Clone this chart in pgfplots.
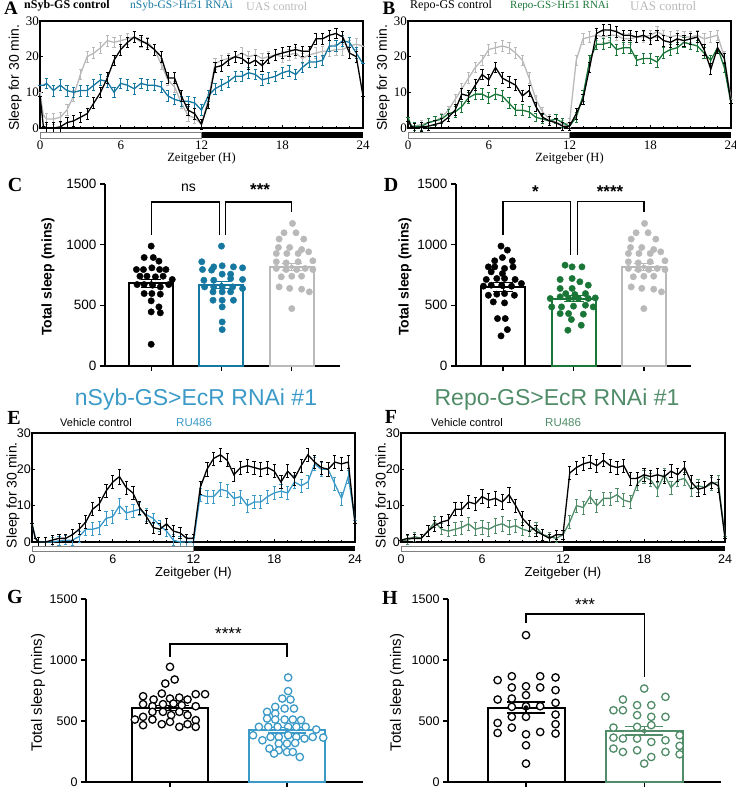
\documentclass[border=0pt]{standalone}
\usepackage{fontspec}
\setmainfont{Liberation Serif}
\newfontfamily\arial{Liberation Sans}
\usepackage{pgfplots}
\usepackage{pgfplotstable}
\pgfplotsset{compat=1.18}

\definecolor{ablue}{RGB}{22,120,160}
\definecolor{bgreen}{RGB}{25,118,55}
\definecolor{lgrey}{RGB}{185,185,185}
\definecolor{eblue}{RGB}{60,154,200}
\definecolor{fgreen}{RGB}{80,140,104}

\pgfplotstableread{
t k b g e
0 9 12 10 0
0.25 0.5 12 3.5 0
0.5 0 12.5 2.5 1.5
1 0 10.5 2.5 1.5
1.5 0.3 12 3 1.5
2 1.5 10.5 5 1.5
2.5 2 10 9 1.5
3 3 10.5 15 1.5
3.5 4 10.5 20 1.5
4 7 12 21 1.5
4.5 10 13.5 22.5 1.5
5 14 13 24.5 1.5
5.5 19 10 24 1.5
6 22 12.5 24.5 1.5
6.5 24 12 25 1.5
7 25.5 11 25.5 1.5
7.5 24.5 12.5 24 1.5
8 23.5 12 24 1.5
8.5 22 12 22 1.5
9 20 11.5 18 1.5
9.5 14 9 13.5 1.5
10 14 8 11.5 1.5
10.5 9 7.5 7 1.5
11 5 7.5 3.5 1.5
11.5 4 7 2.8 1.5
12 1 5 1 1.5
12.5 7 9 8 1.5
13 17 11 18 1.5
13.5 17.5 12 19 1.5
14 19 13 19.5 1.5
14.5 20 14.5 20 1.5
15 19.5 14.5 21 1.5
15.5 18 15.5 20 1.5
16 19 15 20.5 1.5
16.5 17.5 13.5 19.5 1.5
17 19.5 14 20 1.5
17.5 20.5 14.5 20.5 1.5
18 21 15.5 20 1.5
18.5 21.5 16 20.5 1.5
19 22 15 21 1.5
19.5 21.5 17 19.5 1.5
20 21.5 18.5 20.5 1.5
20.5 25 18.5 21 1.5
21 25 19 21.5 1.5
21.5 26 23 21.5 1.5
22 26.5 23 22 1.5
22.5 25.5 24.5 22 1.5
23 21 24 23 1.5
23.5 20 21 23.5 1.5
24 9 18 23 0
}\tabA

\pgfplotstableread{
t k g u e
0 2 3 2 0
0.25 0.5 0.5 0.5 0
0.5 0 0.5 0.5 1.2
1 0.3 0.5 1 1.2
1.5 0.5 1.5 1.5 1.2
2 1 2 2 1.2
2.5 1.5 2.5 3 1.2
3 3 4 5 1.2
3.5 5 4.5 8 1.5
4 9.5 6 11 1.5
4.5 9 8.5 14 1.5
5 12 9.5 17 1.5
5.5 15 9.5 19 1.5
6 13.5 8.5 22 1.5
6.5 17 9.5 22.5 1.5
7 14 9 23 1.5
7.5 13 7 22.5 1.5
8 12 5 21 1.5
8.5 9 5 19 1.5
9 10.5 4.5 14 1.5
9.5 6 3 8 1.2
10 3 2.5 4.5 1.2
10.5 2 2 2.5 1.2
11 1.5 2.5 1.5 1.2
11.5 0.5 1.5 1 1.2
12 0.5 0.5 1.5 1.2
12.5 4 3 19 1.5
13 8 9 25 1.5
13.5 17 19 25.5 1.5
14 26.5 23.5 26 1.5
14.5 27.5 23.5 25.5 1.5
15 27.5 24 26 1.5
15.5 27 22 26 1.5
16 26 22.5 25 1.5
16.5 26 22.5 25 1.5
17 25.5 19 25.5 1.5
17.5 26 19.5 25.5 1.5
18 25 19.5 26 1.5
18.5 26 18.5 27 1.5
19 24.5 21 26 1.5
19.5 24 22 25.5 1.5
20 25 22.5 26 1.5
20.5 24.5 24 25.5 1.5
21 25 23.5 25.5 1.5
21.5 25.5 23 26 1.5
22 22 21 25 1.5
22.5 16.5 19 25.5 1.5
23 22.5 22.5 26 1.5
23.5 19.5 17 20 1.5
24 7 7 8 0
}\tabB

\pgfplotstableread{
t k r e
0 5 5 0
0.25 1 1 0
0.5 0 0 1.2
1 0 0 1.2
1.5 0.5 0 1.2
2 1 0.3 1.2
2.5 1 0.5 1.2
3 2 0.5 1.5
3.5 3.5 1.5 1.5
4 5.5 3.5 1.8
4.5 9 3.5 1.8
5 10.5 4 1.8
5.5 14 6.5 1.8
6 16.5 7 1.8
6.5 18 10 2
7 15 8 1.8
7.5 13.5 8.5 1.8
8 9.5 9 1.8
8.5 7 7.5 1.8
9 4 6.5 1.5
9.5 3.5 4.5 1.5
10 5 3 1.5
10.5 3 0.5 1.5
11 2.5 0 1.5
11.5 1 0 1.2
12 1 0 1.2
12.5 15 13 1.8
13 20 12.5 1.8
13.5 23 12.5 1.8
14 24 14.5 1.8
14.5 22.5 14 1.8
15 18.5 12 1.8
15.5 20.5 12.5 1.8
16 21 10 1.8
16.5 20.5 11 1.8
17 20 11 1.8
17.5 20.5 12.5 1.8
18 19.5 13.5 1.8
18.5 16.5 14 1.8
19 19.5 13.5 1.8
19.5 17.5 16.5 1.8
20 21 15.5 1.8
20.5 24 16.5 1.8
21 22 21.5 1.8
21.5 20.5 20 1.8
22 20 20 1.8
22.5 22 16 1.8
23 21.5 12 1.8
23.5 22 18 1.8
24 5 6 0
}\tabE

\pgfplotstableread{
t k r e
0 0.5 0.5 0
0.5 1 0.5 1.2
1 1 1.5 1.2
1.5 1 1 1.2
2 3 3 1.5
2.5 4.5 5.5 1.5
3 5.5 3.5 1.5
3.5 6 3 1.5
4 9 3.5 1.8
4.5 9 4 1.8
5 11 5 1.8
5.5 10.5 3.5 1.8
6 12.5 4 2
6.5 11.5 3.5 2
7 12 4.5 2
7.5 11 5 2
8 13 4 2
8.5 10 4.5 1.8
9 6.5 3.5 1.8
9.5 4.5 3 1.5
10 3 4 1.5
10.5 2 2 1.5
11 1 1.5 1.2
11.5 2 1 1.2
12 2 2 1.2
12.5 19 5.5 1.8
13 20.5 10 1.8
13.5 21.5 9.5 1.8
14 22 12.5 1.8
14.5 21 10 1.8
15 22.5 12 1.8
15.5 21 12 1.8
16 20.5 13 1.8
16.5 21 11.5 1.8
17 17.5 11 1.8
17.5 17.5 16 1.8
18 18.5 18 1.8
18.5 18 17 1.8
19 18.5 14.5 1.8
19.5 18 18.5 1.8
20 19.5 15 1.8
20.5 18.5 17 1.8
21 20.5 17.5 1.8
21.5 16.5 14.5 1.8
22 14.5 15.5 1.8
22.5 15 15 1.8
23 16.5 16 1.8
23.5 15.5 16.5 1.8
24 1 1.5 0
}\tabF

\pgfplotsset{
 prof/.style={
  scale only axis, width=323pt, height=107pt,
  xmin=0, xmax=24, ymin=0, ymax=30,
  xtick={0,6,12,18,24}, ytick={0,10,20,30},
  minor x tick num=5,
  clip=false, axis line style={line width=1.1pt},
  tick align=inside, major tick length=3pt, minor tick length=2pt,
  tick style={black, line width=0.7pt},
  xtick pos=bottom, ytick pos=left,
  /pgf/number format/assume math mode=true,
  xticklabel style={yshift=-9.5pt},
  yticklabel style={inner sep=1pt},
  xlabel={Zeitgeber (H)},
  ylabel={Sleep for 30 min.},
  ylabel style={font=\arial\fontsize{14}{14}\selectfont, at={(axis description cs:-0.077,0.47)}, anchor=center},
  xlabel style={at={(axis description cs:0.5,-0.285)}, anchor=center},
 },
 serifax/.style={ticklabel style={font=\fontsize{13}{13}\selectfont}, xlabel style={font=\fontsize{12.5}{13}\selectfont}},
 sansax/.style={ticklabel style={font=\arial\fontsize{12.5}{13}\selectfont}, xlabel style={font=\arial\fontsize{13}{13}\selectfont}},
 pl/.style={#1, line width=1.3pt, error bars/y dir=both, error bars/y explicit,
   error bars/error bar style={line width=0.7pt, #1},
   error bars/error mark options={rotate=90, mark size=1.6pt, line width=0.7pt, #1}},
 barax/.style={
  scale only axis, axis lines*=left, axis line style={line width=1.3pt, -},
  ymin=0, ymax=1500, ytick={0,500,1000,1500},
  tick align=outside, major tick length=5pt, tick style={black, line width=1.3pt},
  clip=false, /pgf/number format/assume math mode=true, /pgf/number format/1000 sep={},
  xticklabels={},
 },
 barp/.style={ybar, bar shift=0pt, fill=white, draw=#1, line width=2pt},
 dotf/.style={only marks, mark=*, mark size=3.2pt, mark options={draw=#1, fill=#1}},
 doto/.style={only marks, mark=*, mark size=3.7pt, mark options={draw=#1, fill=white, line width=1.3pt}},
 sem/.style 2 args={only marks, mark=none, #1, error bars/y dir=both, error bars/y explicit,
   error bars/error bar style={line width=1.2pt,#1},
   error bars/error mark options={rotate=90, mark size=#2, line width=1.2pt, #1}},
}

\begin{document}
\begin{tikzpicture}
\useasboundingbox (0pt,0pt) rectangle (736pt,790pt);

% ---------- Panel A ----------
\begin{axis}[prof, serifax, at={(40pt,662pt)}, anchor=south west]
\addplot[pl=lgrey] table[x=t, y=g, y error=e] {\tabA};
\addplot[pl=ablue] table[x=t, y=b, y error=e] {\tabA};
\addplot[pl=black] table[x=t, y=k, y error=e] {\tabA};
\draw[gray, line width=0.6pt, fill=white] (axis cs:0,-1.12) rectangle (axis cs:12,-2.8);
\fill[black] (axis cs:12,-1.12) rectangle (axis cs:24,-2.8);
\end{axis}
\node[font=\bfseries\fontsize{19}{19}\selectfont, inner sep=0pt] at (11pt,781.5pt) {A};
\node[anchor=west, font=\bfseries\fontsize{12}{12}\selectfont, inner sep=0pt] at (24pt,784.3pt) {nSyb-GS control};
\node[anchor=west, font=\fontsize{11.5}{12}\selectfont, text=ablue, inner sep=0pt] at (130pt,784pt) {nSyb-GS>Hr51 RNAi};
\node[anchor=west, font=\fontsize{12}{12}\selectfont, text=lgrey, inner sep=0pt] at (246pt,784pt) {UAS control};

% ---------- Panel B ----------
\begin{axis}[prof, serifax, at={(408pt,662pt)}, anchor=south west]
\addplot[pl=lgrey] table[x=t, y=u, y error=e] {\tabB};
\addplot[pl=bgreen] table[x=t, y=g, y error=e] {\tabB};
\addplot[pl=black] table[x=t, y=k, y error=e] {\tabB};
\draw[gray, line width=0.6pt, fill=white] (axis cs:0,-1.12) rectangle (axis cs:12,-2.8);
\fill[black] (axis cs:12,-1.12) rectangle (axis cs:24,-2.8);
\end{axis}
\node[font=\bfseries\fontsize{19}{19}\selectfont, inner sep=0pt] at (389pt,781.5pt) {B};
\node[anchor=west, font=\fontsize{12}{12}\selectfont, inner sep=0pt] at (410pt,784pt) {Repo-GS control};
\node[anchor=west, font=\fontsize{11}{12}\selectfont, text=bgreen, inner sep=0pt] at (510pt,784pt) {Repo-GS>Hr51 RNAi};
\node[anchor=west, font=\fontsize{13}{13}\selectfont, text=lgrey, inner sep=0pt] at (630pt,784pt) {UAS control};

% ---------- Panel C ----------
\begin{axis}[barax, at={(105pt,424pt)}, anchor=south west, width=235pt, height=182pt,
  xmin=-0.657, xmax=2.686, xtick={0,1,2},
  yticklabel style={font=\arial\fontsize{13.5}{14}\selectfont},
  ylabel={Total sleep (mins)},
  ylabel style={font=\arial\bfseries\fontsize{14}{14}\selectfont, at={(axis description cs:-0.243,0.49)}, anchor=center}]
\addplot[barp=black, bar width=44pt] coordinates {(0,680)};
\addplot[barp=ablue, bar width=44pt] coordinates {(1,666)};
\addplot[barp=lgrey, bar width=44pt] coordinates {(2,817)};
\addplot[dotf=black] coordinates {(0,988) (-0.10,894) (0.03,894) (0.11,864) (-0.21,795) (-0.11,795) (0.01,809) (0.12,795) (0.21,795) (-0.16,740) (-0.06,740) (0.06,735) (0.17,740) (0.30,713) (-0.20,671) (-0.10,671) (0.02,666) (0.13,652) (0.25,671) (-0.10,597) (0.01,597) (0.13,592) (0,537) (0.11,487) (0,446) (0.13,438) (0,179)};
\addplot[dotf=ablue] coordinates {(1.00,988) (0.72,859) (0.89,817) (1.01,826) (1.17,817) (1.30,809) (0.73,795) (0.86,790) (1.01,757) (1.13,757) (0.75,707) (0.89,707) (1.13,721) (1.30,713) (0.76,652) (0.89,652) (1.01,652) (1.16,652) (1.30,639) (0.88,611) (1.01,611) (1.13,611) (0.88,542) (1.01,542) (1.17,542) (1.01,487) (1.01,363) (1.01,300)};
\addplot[dotf=lgrey] coordinates {(2.01,1175) (1.89,1098) (2.06,1098) (1.82,1046) (2.17,1046) (1.81,977) (1.97,977) (2.14,960) (1.78,927) (1.93,927) (2.09,927) (2.24,941) (2.30,867) (1.78,859) (1.92,850) (2.09,859) (1.78,804) (1.92,795) (2.07,795) (2.19,804) (2.30,795) (1.85,735) (2.00,740) (2.14,740) (1.82,652) (1.97,640) (2.14,633) (2.25,611) (2.00,473)};
\addplot[sem={black}{10pt}] coordinates {(0,680) +- (0,35)};
\addplot[sem={ablue}{10pt}] coordinates {(1,666) +- (0,30)};
\addplot[sem={lgrey}{10pt}] coordinates {(2,817) +- (0,28)};
\draw[line width=1.3pt] (axis cs:0,1080) -- (axis cs:0,1352) -- (axis cs:0.97,1352) -- (axis cs:0.97,1080);
\draw[line width=1.3pt] (axis cs:1.06,1080) -- (axis cs:1.06,1352) -- (axis cs:2,1352) -- (axis cs:2,1270);
\node[font=\arial\fontsize{14}{14}\selectfont] at (axis cs:0.53,1470) {ns};
\node[font=\arial\bfseries\fontsize{17}{17}\selectfont] at (axis cs:1.55,1452) {***};
\end{axis}
\node[font=\bfseries\fontsize{20}{20}\selectfont] at (15pt,605pt) {C};

% ---------- Panel D ----------
\begin{axis}[barax, at={(456pt,424pt)}, anchor=south west, width=235pt, height=182pt,
  xmin=-0.67, xmax=2.67, xtick={0,1,2},
  yticklabel style={font=\arial\fontsize{13.5}{14}\selectfont},
  ylabel={Total sleep (mins)},
  ylabel style={font=\arial\bfseries\fontsize{14}{14}\selectfont, at={(axis description cs:-0.217,0.49)}, anchor=center}]
\addplot[barp=black, bar width=44pt] coordinates {(0,652)};
\addplot[barp=bgreen, bar width=44pt] coordinates {(1,556)};
\addplot[barp=lgrey, bar width=44pt] coordinates {(2,817)};
\addplot[dotf=black] coordinates {(-0.03,988) (0.06,955) (-0.01,894) (-0.12,867) (0.13,867) (-0.21,817) (-0.12,817) (0.02,804) (0.14,817) (-0.17,776) (-0.01,762) (-0.24,713) (-0.09,721) (0.02,721) (0.17,713) (-0.17,666) (-0.02,666) (0.12,658) (0.26,680) (-0.28,658) (-0.21,583) (-0.09,592) (0.02,597) (0.16,583) (-0.14,528) (0.02,520) (-0.08,391) (0.03,391) (0.06,300) (-0.03,248)};
\addplot[dotf=bgreen] coordinates {(0.88,831) (0.98,817) (1.12,817) (0.81,713) (0.98,721) (1.09,694) (0.81,639) (0.98,639) (1.21,666) (0.89,597) (1.02,589) (1.17,597) (0.67,556) (0.81,570) (0.93,556) (1.07,556) (1.21,556) (1.31,561) (0.69,487) (0.83,487) (1.00,493) (1.17,501) (1.28,487) (0.81,432) (0.93,432) (1.14,427) (0.97,383) (1.11,336) (0.92,295)};
\addplot[dotf=lgrey] coordinates {(2.01,1175) (1.89,1098) (2.06,1098) (1.82,1046) (2.17,1046) (1.81,977) (1.97,977) (2.14,960) (1.78,927) (1.93,927) (2.09,927) (2.24,941) (2.30,867) (1.78,859) (1.92,850) (2.09,859) (1.78,804) (1.92,795) (2.07,795) (2.19,804) (2.30,795) (1.85,735) (2.00,740) (2.14,740) (1.82,652) (1.97,640) (2.14,633) (2.25,611) (2.00,473)};
\addplot[sem={black}{10pt}] coordinates {(0,652) +- (0,35)};
\addplot[sem={bgreen}{10pt}] coordinates {(1,556) +- (0,22)};
\addplot[sem={lgrey}{10pt}] coordinates {(2,817) +- (0,28)};
\draw[line width=1.3pt] (axis cs:0,1079) -- (axis cs:0,1354) -- (axis cs:0.96,1354) -- (axis cs:0.96,914);
\draw[line width=1.3pt] (axis cs:1.06,914) -- (axis cs:1.06,1354) -- (axis cs:2,1354) -- (axis cs:2,1271);
\node[font=\arial\bfseries\fontsize{17}{17}\selectfont] at (axis cs:0.46,1440) {*};
\node[font=\arial\bfseries\fontsize{17}{17}\selectfont] at (axis cs:1.52,1440) {****};
\end{axis}
\node[font=\bfseries\fontsize{20}{20}\selectfont] at (391pt,605pt) {D};

% ---------- Titles ----------
\node[font=\arial\fontsize{23}{23}\selectfont, text=eblue] at (196pt,390pt) {nSyb-GS>EcR RNAi \#1};
\node[font=\arial\fontsize{23}{23}\selectfont, text=fgreen] at (557pt,390pt) {Repo-GS>EcR RNAi \#1};

% ---------- Panel E ----------
\begin{axis}[prof, sansax, at={(32pt,248pt)}, anchor=south west, height=109pt,
  ylabel style={at={(axis description cs:-0.059,0.43)}},
  xlabel style={at={(axis description cs:0.5,-0.29)}}]
\addplot[pl=eblue] table[x=t, y=r, y error=e] {\tabE};
\addplot[pl=black] table[x=t, y=k, y error=e] {\tabE};
\draw[gray, line width=0.6pt, fill=white] (axis cs:0,-1.1) rectangle (axis cs:12,-2.5);
\fill[black] (axis cs:12,-1.1) rectangle (axis cs:24,-2.5);
\end{axis}
\node[font=\bfseries\fontsize{20}{20}\selectfont] at (14pt,372pt) {E};
\node[anchor=west, font=\arial\fontsize{11}{11}\selectfont, inner sep=0pt] at (60pt,367pt) {Vehicle control};
\node[anchor=west, font=\arial\fontsize{11.5}{11.5}\selectfont, text=eblue, inner sep=0pt] at (176pt,367pt) {RU486};

% ---------- Panel F ----------
\begin{axis}[prof, sansax, at={(401pt,248pt)}, anchor=south west, width=324pt, height=109pt,
  ylabel style={at={(axis description cs:-0.059,0.43)}},
  xlabel style={at={(axis description cs:0.5,-0.29)}}]
\addplot[pl=fgreen] table[x=t, y=r, y error=e] {\tabF};
\addplot[pl=black] table[x=t, y=k, y error=e] {\tabF};
\draw[gray, line width=0.6pt, fill=white] (axis cs:0,-1.1) rectangle (axis cs:12,-2.5);
\fill[black] (axis cs:12,-1.1) rectangle (axis cs:24,-2.5);
\end{axis}
\node[font=\bfseries\fontsize{20}{20}\selectfont] at (391pt,373pt) {F};
\node[anchor=west, font=\arial\fontsize{11}{11}\selectfont, inner sep=0pt] at (431pt,367pt) {Vehicle control};
\node[anchor=west, font=\arial\fontsize{11.5}{11.5}\selectfont, text=fgreen, inner sep=0pt] at (545pt,367pt) {RU486};

% ---------- Panel G ----------
\begin{axis}[barax, at={(86pt,8pt)}, anchor=south west, width=277pt, height=183pt,
  xmin=-0.718, xmax=1.65, xtick={0,1},
  yticklabel style={font=\arial\fontsize{12.5}{13}\selectfont},
  ylabel={Total sleep (mins)},
  ylabel style={font=\arial\fontsize{15}{15}\selectfont, at={(axis description cs:-0.173,0.49)}, anchor=center}]
\addplot[barp=black, bar width=76pt] coordinates {(0,608)};
\addplot[barp=eblue, bar width=76pt] coordinates {(1,424)};
\addplot[doto=black] coordinates {(0.00,944) (-0.04,807) (0.04,840) (-0.23,703) (-0.14,676) (-0.07,725) (0.00,684) (0.08,692) (0.15,676) (0.22,720) (0.30,720) (-0.23,638) (-0.15,621) (-0.06,638) (0.03,643) (0.10,629) (0.22,621) (-0.30,512) (-0.23,534) (-0.15,575) (-0.06,575) (0.01,548) (0.08,575) (0.15,548) (0.22,507) (-0.23,466) (-0.15,512) (-0.07,474) (0.00,493) (0.08,452) (0.15,474) (0.22,452)};
\addplot[doto=eblue] coordinates {(1.01,857) (1.01,745) (0.96,684) (1.03,676) (0.90,616) (0.98,602) (1.06,602) (0.83,575) (0.90,561) (0.83,520) (0.90,512) (0.98,512) (1.05,512) (1.12,507) (0.76,452) (0.84,452) (0.92,452) (1.01,452) (1.08,452) (1.16,452) (1.25,430) (0.71,383) (0.79,342) (0.86,369) (0.93,369) (1.01,383) (1.08,369) (1.15,356) (1.22,369) (1.31,364) (0.93,315) (1.00,315) (1.07,320) (0.85,274) (0.93,260) (1.00,246) (1.05,246) (0.89,233) (1.11,205)};
\addplot[sem={black}{19pt}] coordinates {(0,608) +- (0,20)};
\addplot[sem={eblue}{19pt}] coordinates {(1,424) +- (0,22)};
\draw[line width=1.3pt] (axis cs:0,1025) -- (axis cs:0,1131) -- (axis cs:1,1131) -- (axis cs:1,1025);
\node[font=\arial\fontsize{17}{17}\selectfont] at (axis cs:0.5,1212) {****};
\end{axis}
\node[font=\bfseries\fontsize{20}{20}\selectfont] at (15pt,193pt) {G};

% ---------- Panel H ----------
\begin{axis}[barax, at={(448pt,8pt)}, anchor=south west, width=273pt, height=183pt,
  xmin=-0.66, xmax=1.65, xtick={0,1},
  yticklabel style={font=\arial\fontsize{12.5}{13}\selectfont},
  ylabel={Total sleep (mins)},
  ylabel style={font=\arial\fontsize{15}{15}\selectfont, at={(axis description cs:-0.187,0.49)}, anchor=center}]
\addplot[barp=black, bar width=77pt] coordinates {(0,610)};
\addplot[barp=fgreen, bar width=77pt] coordinates {(1,419)};
\addplot[doto=black] coordinates {(0.00,1204) (-0.24,835) (-0.12,867) (0.12,867) (0.25,857) (-0.12,775) (0.00,785) (0.12,775) (0.25,753) (-0.24,676) (-0.12,684) (0.00,712) (0.25,649) (-0.12,616) (0.00,621) (0.12,621) (-0.12,534) (0.00,534) (0.25,553) (-0.24,484) (0.25,474) (-0.12,446) (-0.24,402) (0.00,391) (0.12,410) (0.25,397) (0.00,301) (0.00,151)};
\addplot[doto=fgreen] coordinates {(1.00,766) (0.82,676) (1.18,698) (0.74,588) (0.82,588) (0.94,630) (1.06,630) (0.94,548) (1.06,534) (1.18,534) (0.74,446) (0.94,452) (1.06,466) (0.82,356) (0.94,356) (1.06,328) (1.18,342) (1.30,383) (0.74,364) (0.74,274) (0.82,246) (0.94,260) (1.18,246) (1.30,296) (1.30,227) (1.06,205) (1.00,151)};
\addplot[sem={black}{19pt}] coordinates {(0,610) +- (0,45)};
\addplot[sem={fgreen}{19pt}] coordinates {(1,419) +- (0,34)};
\draw[line width=1.3pt] (axis cs:0,1300) -- (axis cs:0,1377) -- (axis cs:1,1377) -- (axis cs:1,860);
\node[font=\arial\fontsize{17}{17}\selectfont] at (axis cs:0.5,1455) {***};
\end{axis}
\node[font=\bfseries\fontsize{20}{20}\selectfont] at (390pt,192pt) {H};

\end{tikzpicture}
\end{document}
